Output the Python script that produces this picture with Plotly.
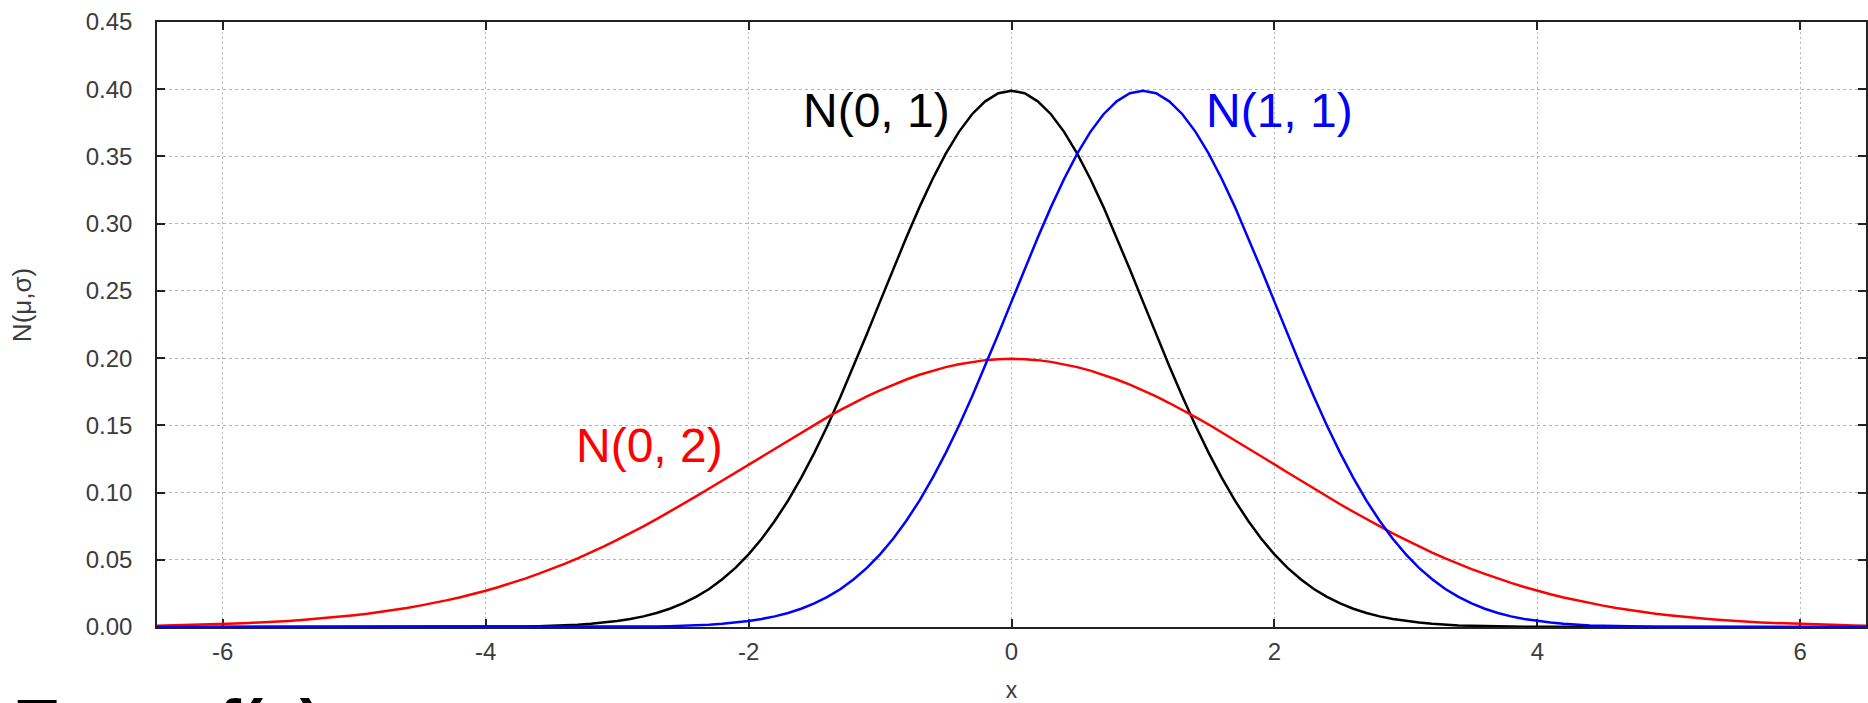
import plotly.graph_objects as go

# x sample positions (step 0.1 from -6.5 to 6.5)
x_vals = [
    -6.5, -6.4, -6.3, -6.2, -6.1, -6.0, -5.9, -5.8, -5.7, -5.6,
    -5.5, -5.4, -5.3, -5.2, -5.1, -5.0, -4.9, -4.8, -4.7, -4.6,
    -4.5, -4.4, -4.3, -4.2, -4.1, -4.0, -3.9, -3.8, -3.7, -3.6,
    -3.5, -3.4, -3.3, -3.2, -3.1, -3.0, -2.9, -2.8, -2.7, -2.6,
    -2.5, -2.4, -2.3, -2.2, -2.1, -2.0, -1.9, -1.8, -1.7, -1.6,
    -1.5, -1.4, -1.3, -1.2, -1.1, -1.0, -0.9, -0.8, -0.7, -0.6,
    -0.5, -0.4, -0.3, -0.2, -0.1, 0.0, 0.1, 0.2, 0.3, 0.4,
    0.5, 0.6, 0.7, 0.8, 0.9, 1.0, 1.1, 1.2, 1.3, 1.4,
    1.5, 1.6, 1.7, 1.8, 1.9, 2.0, 2.1, 2.2, 2.3, 2.4,
    2.5, 2.6, 2.7, 2.8, 2.9, 3.0, 3.1, 3.2, 3.3, 3.4,
    3.5, 3.6, 3.7, 3.8, 3.9, 4.0, 4.1, 4.2, 4.3, 4.4,
    4.5, 4.6, 4.7, 4.8, 4.9, 5.0, 5.1, 5.2, 5.3, 5.4,
    5.5, 5.6, 5.7, 5.8, 5.9, 6.0, 6.1, 6.2, 6.3, 6.4,
    6.5,
]

# N(0, 1)
n01 = [
    0, 0, 0, 0, 0, 0, 0, 0, 0, 0,
    0, 0, 0, 0, 0, 0, 0, 0, 0, 0,
    0, 0, 0, 0.0001, 0.0001, 0.0001, 0.0002, 0.0003, 0.0004, 0.0006,
    0.0009, 0.0012, 0.0017, 0.0024, 0.0033, 0.0044, 0.0060, 0.0079, 0.0104, 0.0136,
    0.0175, 0.0224, 0.0283, 0.0355, 0.0440, 0.0540, 0.0656, 0.0790, 0.0940, 0.1109,
    0.1295, 0.1497, 0.1714, 0.1942, 0.2179, 0.2420, 0.2661, 0.2897, 0.3123, 0.3332,
    0.3521, 0.3683, 0.3814, 0.3910, 0.3970, 0.3989, 0.3970, 0.3910, 0.3814, 0.3683,
    0.3521, 0.3332, 0.3123, 0.2897, 0.2661, 0.2420, 0.2179, 0.1942, 0.1714, 0.1497,
    0.1295, 0.1109, 0.0940, 0.0790, 0.0656, 0.0540, 0.0440, 0.0355, 0.0283, 0.0224,
    0.0175, 0.0136, 0.0104, 0.0079, 0.0060, 0.0044, 0.0033, 0.0024, 0.0017, 0.0012,
    0.0009, 0.0006, 0.0004, 0.0003, 0.0002, 0.0001, 0.0001, 0.0001, 0, 0,
    0, 0, 0, 0, 0, 0, 0, 0, 0, 0,
    0, 0, 0, 0, 0, 0, 0, 0, 0, 0,
    0,
]

# N(1, 1)
n11 = [
    0, 0, 0, 0, 0, 0, 0, 0, 0, 0,
    0, 0, 0, 0, 0, 0, 0, 0, 0, 0,
    0, 0, 0, 0, 0, 0, 0, 0, 0, 0,
    0, 0, 0, 0.0001, 0.0001, 0.0001, 0.0002, 0.0003, 0.0004, 0.0006,
    0.0009, 0.0012, 0.0017, 0.0024, 0.0033, 0.0044, 0.0060, 0.0079, 0.0104, 0.0136,
    0.0175, 0.0224, 0.0283, 0.0355, 0.0440, 0.0540, 0.0656, 0.0790, 0.0940, 0.1109,
    0.1295, 0.1497, 0.1714, 0.1942, 0.2179, 0.2420, 0.2661, 0.2897, 0.3123, 0.3332,
    0.3521, 0.3683, 0.3814, 0.3910, 0.3970, 0.3989, 0.3970, 0.3910, 0.3814, 0.3683,
    0.3521, 0.3332, 0.3123, 0.2897, 0.2661, 0.2420, 0.2179, 0.1942, 0.1714, 0.1497,
    0.1295, 0.1109, 0.0940, 0.0790, 0.0656, 0.0540, 0.0440, 0.0355, 0.0283, 0.0224,
    0.0175, 0.0136, 0.0104, 0.0079, 0.0060, 0.0044, 0.0033, 0.0024, 0.0017, 0.0012,
    0.0009, 0.0006, 0.0004, 0.0003, 0.0002, 0.0001, 0.0001, 0.0001, 0, 0,
    0, 0, 0, 0, 0, 0, 0, 0, 0, 0,
    0,
]

# N(0, 2)
n02 = [
    0.0010, 0.0012, 0.0014, 0.0017, 0.0019, 0.0022, 0.0026, 0.0030, 0.0034, 0.0040,
    0.0045, 0.0052, 0.0060, 0.0068, 0.0077, 0.0088, 0.0099, 0.0112, 0.0126, 0.0141,
    0.0159, 0.0177, 0.0198, 0.0220, 0.0244, 0.0270, 0.0298, 0.0328, 0.0360, 0.0395,
    0.0431, 0.0470, 0.0511, 0.0554, 0.0600, 0.0648, 0.0697, 0.0748, 0.0802, 0.0857,
    0.0913, 0.0971, 0.1030, 0.1089, 0.1149, 0.1210, 0.1270, 0.1330, 0.1390, 0.1448,
    0.1506, 0.1561, 0.1615, 0.1666, 0.1715, 0.1760, 0.1803, 0.1841, 0.1876, 0.1907,
    0.1933, 0.1955, 0.1972, 0.1985, 0.1992, 0.1995, 0.1992, 0.1985, 0.1972, 0.1955,
    0.1933, 0.1907, 0.1876, 0.1841, 0.1803, 0.1760, 0.1715, 0.1666, 0.1615, 0.1561,
    0.1506, 0.1448, 0.1390, 0.1330, 0.1270, 0.1210, 0.1149, 0.1089, 0.1030, 0.0971,
    0.0913, 0.0857, 0.0802, 0.0748, 0.0697, 0.0648, 0.0600, 0.0554, 0.0511, 0.0470,
    0.0431, 0.0395, 0.0360, 0.0328, 0.0298, 0.0270, 0.0244, 0.0220, 0.0198, 0.0177,
    0.0159, 0.0141, 0.0126, 0.0112, 0.0099, 0.0088, 0.0077, 0.0068, 0.0060, 0.0052,
    0.0045, 0.0040, 0.0034, 0.0030, 0.0026, 0.0022, 0.0019, 0.0017, 0.0014, 0.0012,
    0.0010,
]

x_tickvals = [-6, -4, -2, 0, 2, 4, 6]
x_ticktext = ["-6", "-4", "-2", "0", "2", "4", "6"]

labels = ["N(0, 1)", "N(1, 1)", "N(0, 2)"]
label_x = [-1.03, 2.038, -2.75]
label_y = [0.384, 0.384, 0.135]
colors = ["#000000", "#0000ff", "#ff0000"]

FONT = "Liberation Sans, Arial, sans-serif"
TICK_COLOR = "#3c3c3c"

fig = go.Figure()
fig.add_trace(go.Scatter(x=x_vals, y=n01, mode="lines", line=dict(color=colors[0], width=2.5), name=labels[0]))
fig.add_trace(go.Scatter(x=x_vals, y=n02, mode="lines", line=dict(color=colors[2], width=2.5), name=labels[2]))
fig.add_trace(go.Scatter(x=x_vals, y=n11, mode="lines", line=dict(color=colors[1], width=2.5), name=labels[1]))

for t, lx, ly, c in zip(labels, label_x, label_y, colors):
    fig.add_annotation(x=lx, y=ly, xref="x", yref="y", text=t, showarrow=False,
                       font=dict(family=FONT, size=48, color=c))

# y-axis title (rotated text left of the tick labels)
fig.add_annotation(x=-0.079, y=0.532, xref="paper", yref="paper", text="N(μ,σ)",
                   textangle=-90, showarrow=False, xanchor="center", yanchor="middle",
                   font=dict(family=FONT, size=26, color=TICK_COLOR))

fig.add_annotation(x=0, y=-0.095, xref="paper", yref="paper", xshift=-142,
                   text="<b>Такая f(x)</b>", showarrow=False,
                   xanchor="left", yanchor="top",
                   font=dict(family=FONT, size=66, color="#000000"))

axis_common = dict(
    showline=True, linecolor="#222222", linewidth=1.5, mirror="ticks",
    ticks="inside", ticklen=8, tickwidth=2, tickcolor="#222222",
    showgrid=True, gridcolor="#b4b4b4", gridwidth=1,
    zeroline=False, layer="below traces",
    tickfont=dict(family=FONT, size=24, color=TICK_COLOR),
)

fig.update_xaxes(range=[-6.5, 6.5], tickmode="array", tickvals=x_tickvals, ticktext=x_ticktext,
                 griddash="2px,3px", ticklabelstandoff=2,
                 title=dict(text="x", font=dict(family=FONT, size=23, color=TICK_COLOR), standoff=28),
                 **axis_common)
fig.update_yaxes(range=[0, 0.45], dtick=0.05, tick0=0, tickformat=".2f", griddash="3px,3px",
                 ticklabelstandoff=18,
                 **axis_common)

fig.update_layout(
    width=1868, height=703,
    margin=dict(l=157, r=2, t=22, b=76, autoexpand=False),
    paper_bgcolor="white", plot_bgcolor="white",
    showlegend=False,
)

# remove the default page margin so the 1868x703 figure fills the window exactly
fig.write_html("out.html",
               config={"displayModeBar": False},
               post_script="document.body.style.margin='0';document.body.style.overflow='hidden';")
